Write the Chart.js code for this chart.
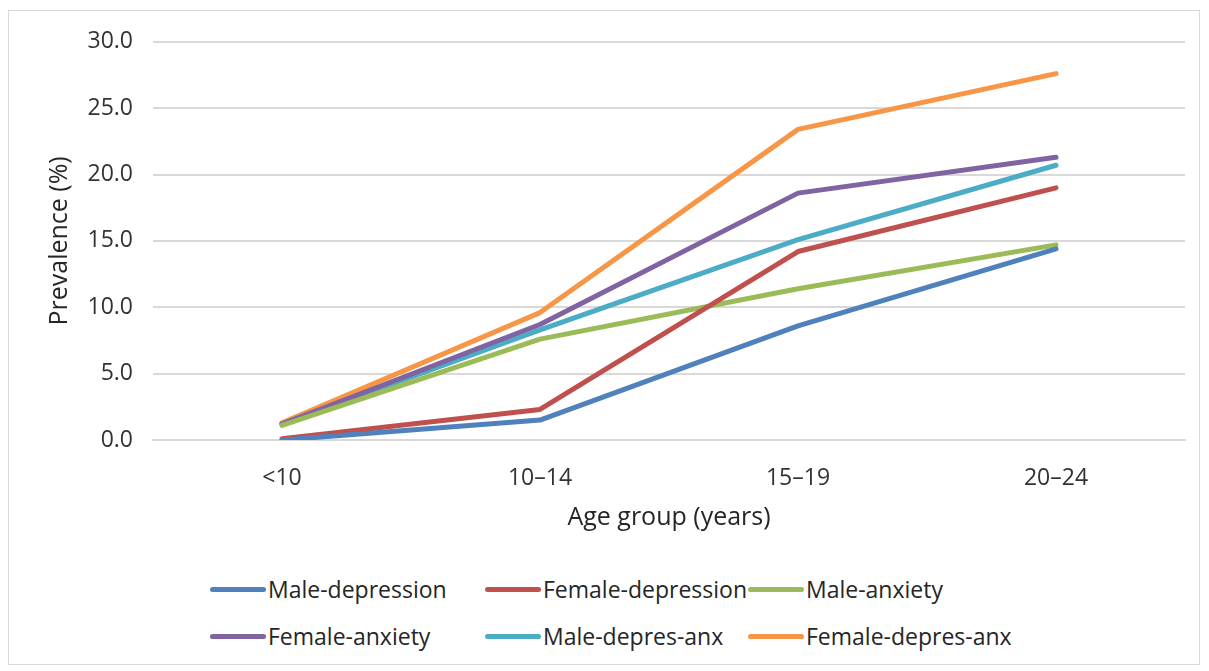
<!DOCTYPE html>
<html>
<head>
<meta charset="utf-8">
<script src="https://cdn.jsdelivr.net/npm/chart.js@4.4.1/dist/chart.umd.min.js"></script>
<style>
  body { margin: 0; background: #fff; font-family: "Open Sans", sans-serif; }
  #frame { position: absolute; left: 8px; top: 10px; width: 1192px; height: 655px; border: 1px solid #d9d9d9; box-sizing: border-box; }
  #wrap { position: absolute; left: 9px; top: 8px; width: 1190px; height: 543px; }
  #legend { position: absolute; left: 210px; top: 567px; display: grid; grid-template-columns: 275px 263px 260px; row-gap: 3px; }
  .item { display: flex; align-items: center; height: 44px; font-size: 23px; color: #262626; white-space: nowrap; }
  .swatch { width: 56px; height: 5px; border-radius: 3px; margin-right: 2px; flex: none; }
</style>
</head>
<body>
<div id="frame"></div>
<div id="wrap"><canvas id="chart"></canvas></div>
<div id="legend"></div>
<script>
// categories and series
const ageGroups = ['<10', '10\u201314', '15\u201319', '20\u201324'];
const maleDepression   = [0.0, 1.5, 8.6, 14.4];
const femaleDepression = [0.1, 2.3, 14.2, 19.0];
const maleAnxiety      = [1.1, 7.6, 11.4, 14.7];
const femaleAnxiety    = [1.2, 8.7, 18.6, 21.3];
const maleDepresAnx    = [1.2, 8.3, 15.1, 20.7];
const femaleDepresAnx  = [1.3, 9.6, 23.4, 27.6];
const yTicks = [0, 5, 10, 15, 20, 25, 30];

const seriesNames = ['Male-depression', 'Female-depression', 'Male-anxiety', 'Female-anxiety', 'Male-depres-anx', 'Female-depres-anx'];
const seriesData = [maleDepression, femaleDepression, maleAnxiety, femaleAnxiety, maleDepresAnx, femaleDepresAnx];
const colors = ['#4f81bd', '#c0504d', '#9bbb59', '#8064a2', '#4bacc6', '#f79646'];

const fontFamily = '"Open Sans", sans-serif';

function makeDataset(i) {
    return {
        label: seriesNames[i],
        data: seriesData[i],
        borderColor: colors[i],
        backgroundColor: colors[i],
        borderWidth: 5,
        borderCapStyle: 'round',
        borderJoinStyle: 'round',
        pointRadius: 0,
        tension: 0,
        fill: false
    };
}

const ctx = document.getElementById('chart').getContext('2d');
const chart = new Chart(ctx, {
    type: 'line',
    data: {
        labels: ageGroups,
        datasets: seriesData.map((d, i) => makeDataset(i))
    },
    options: {
        responsive: true,
        maintainAspectRatio: false,
        animation: false,
        layout: { padding: { top: 15, right: 14, left: 32, bottom: 0 } },
        plugins: {
            legend: { display: false },
            tooltip: { enabled: false }
        },
        scales: {
            x: {
                offset: true,
                grid: { display: false, drawTicks: false },
                border: { display: true, color: '#d9d9d9', width: 2 },
                ticks: { padding: 25, color: '#333', font: { family: fontFamily, size: 23 } },
                title: {
                    display: true,
                    text: 'Age group (years)',
                    color: '#262626',
                    font: { family: fontFamily, size: 25 },
                    padding: { top: 0, bottom: 18 }
                },
                afterFit: s => { s.height = 111; }
            },
            y: {
                min: 0,
                max: 30,
                afterBuildTicks: s => { s.ticks = yTicks.map(v => ({ value: v })); },
                grid: { color: '#d9d9d9', lineWidth: 2, drawTicks: false },
                border: { display: false },
                ticks: {
                    padding: 20,
                    color: '#333',
                    font: { family: fontFamily, size: 23 },
                    callback: v => v.toFixed(1)
                },
                title: {
                    display: true,
                    text: 'Prevalence (%)',
                    color: '#262626',
                    font: { family: fontFamily, size: 25 },
                    padding: { top: 4, bottom: 4 }
                },
                afterFit: s => { s.width = 112; }
            }
        }
    }
});

// legend built from the chart's own datasets, laid out in three columns
const legendEl = document.getElementById('legend');
chart.data.datasets.forEach(ds => {
    const item = document.createElement('div');
    item.className = 'item';
    const sw = document.createElement('span');
    sw.className = 'swatch';
    sw.style.background = ds.borderColor;
    const txt = document.createElement('span');
    txt.textContent = ds.label;
    item.appendChild(sw);
    item.appendChild(txt);
    legendEl.appendChild(item);
});
</script>
</body>
</html>
